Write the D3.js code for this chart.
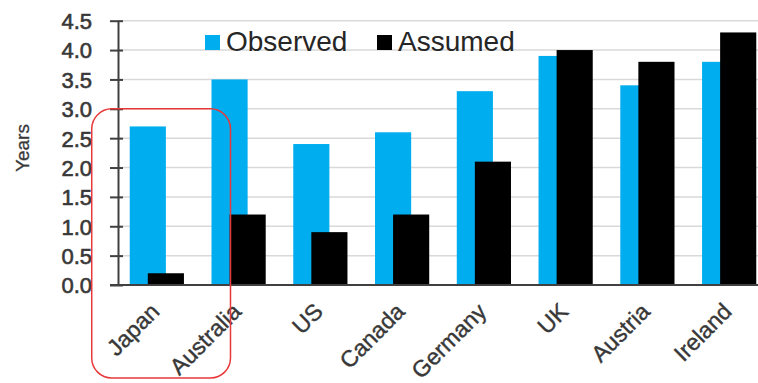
<!DOCTYPE html>
<html>
<head>
<meta charset="utf-8">
<script src="https://cdn.jsdelivr.net/npm/d3@7/dist/d3.min.js"></script>
<style>
  html, body { margin: 0; padding: 0; background: #fff; }
  svg { display: block; }
  text { font-family: "Liberation Sans", Arial, sans-serif; }
</style>
</head>
<body>
<svg id="chart" width="758" height="383"></svg>
<script>
// Years of data: observed vs assumed, by country
const countries = ["Japan", "Australia", "US", "Canada", "Germany", "UK", "Austria", "Ireland"];
const observed  = [2.7, 3.5, 2.4, 2.6, 3.3, 3.9, 3.4, 3.8];
const assumed   = [0.2, 1.2, 0.9, 1.2, 2.1, 4.0, 3.8, 4.3];
const seriesNames = ["Observed", "Assumed"];
const yTicks = [0, 0.5, 1, 1.5, 2, 2.5, 3, 3.5, 4, 4.5];
const highlighted = ["Japan", "Australia"];

const colors = { Observed: "#00aeef", Assumed: "#000000" };
const textColor = "#383838";

const svg = d3.select("#chart");
const axisX = 118, y0 = 285, yTop = 20.7;

const x = d3.scaleBand()
  .domain(countries)
  .range([116, 770])
  .paddingInner(0.337)
  .paddingOuter(0.168);

const y = d3.scaleLinear().domain([0, 4.5]).range([y0, yTop]);

// Overlapping bars: each bar is two thirds of the group, shifted by one third
const barW = x.bandwidth() * 2 / 3;
const sub = d3.scalePoint().domain(seriesNames).range([0, x.bandwidth() / 3]);

// Gridlines
svg.append("g")
  .selectAll("line")
  .data(yTicks.filter(t => t > 0))
  .join("line")
  .attr("x1", axisX).attr("x2", 770)
  .attr("y1", d => y(d)).attr("y2", d => y(d))
  .attr("stroke", "#d9d9d9").attr("stroke-width", 1.5);

// Bars
const rows = countries.map((c, i) => ({ c, Observed: observed[i], Assumed: assumed[i] }));
const groups = svg.append("g").selectAll("g")
  .data(rows).join("g")
  .attr("transform", d => `translate(${x(d.c)},0)`);

groups.selectAll("rect")
  .data(d => seriesNames.map(s => ({ s, v: d[s] })))
  .join("rect")
  .attr("x", d => sub(d.s))
  .attr("width", barW)
  .attr("y", d => y(d.v))
  .attr("height", d => y0 - y(d.v))
  .attr("fill", d => colors[d.s]);

// Y axis with cross ticks
const yAxis = d3.axisLeft(y)
  .tickValues(yTicks)
  .tickFormat(d3.format(".1f"))
  .tickSizeInner(-7)
  .tickSizeOuter(0)
  .tickPadding(0);

const yg = svg.append("g").attr("transform", `translate(${axisX},0)`).call(yAxis);
yg.select(".domain").attr("stroke", "#404040").attr("stroke-width", 2);
yg.selectAll(".tick line")
  .attr("x1", -8).attr("x2", 5)
  .attr("stroke", "#404040").attr("stroke-width", 2);
yg.selectAll(".tick text")
  .attr("x", -26)
  .attr("dy", "0.36em")
  .attr("font-size", 22)
  .attr("font-family", "Liberation Sans, Arial, sans-serif")
  .attr("fill", textColor)
  .attr("stroke", textColor)
  .attr("stroke-width", 0.6);

// X axis baseline
svg.append("line")
  .attr("x1", axisX - 8).attr("x2", 770)
  .attr("y1", y0).attr("y2", y0)
  .attr("stroke", "#404040").attr("stroke-width", 2);

// Rotated category labels
svg.append("g").selectAll("text")
  .data(countries).join("text")
  .attr("transform", d => `translate(${x(d) + x.bandwidth() / 2 + 4},${y0 + 28}) rotate(-45)`)
  .attr("text-anchor", "end")
  .attr("font-size", 23)
  .attr("fill", textColor)
  .attr("stroke", textColor)
  .attr("stroke-width", 0.4)
  .text(d => d);

// Y axis title
svg.append("text")
  .attr("transform", `translate(29,148) rotate(-90)`)
  .attr("text-anchor", "middle")
  .attr("font-size", 19)
  .attr("fill", textColor)
  .attr("stroke", textColor)
  .attr("stroke-width", 0.3)
  .text("Years");

// Legend
const legendPos = { Observed: 205, Assumed: 377 };
const legend = svg.append("g").selectAll("g")
  .data(seriesNames).join("g")
  .attr("transform", d => `translate(${legendPos[d]},0)`);
legend.append("rect")
  .attr("x", 0).attr("y", 35).attr("width", 15).attr("height", 15)
  .attr("fill", d => colors[d]);
legend.append("text")
  .attr("x", 21).attr("y", 51)
  .attr("font-size", 28)
  .attr("fill", "#262626")
  .text(d => d);

// Highlight box around the first two categories
const hx0 = x(highlighted[0]) - 38;
const hx1 = x(highlighted[1]) + 19;
svg.append("rect")
  .attr("x", hx0).attr("y", y(3.0))
  .attr("width", hx1 - hx0).attr("height", 378 - y(3.0))
  .attr("rx", 20).attr("ry", 20)
  .attr("fill", "none")
  .attr("stroke", "#e8393a")
  .attr("stroke-width", 1.5);
</script>
</body>
</html>
